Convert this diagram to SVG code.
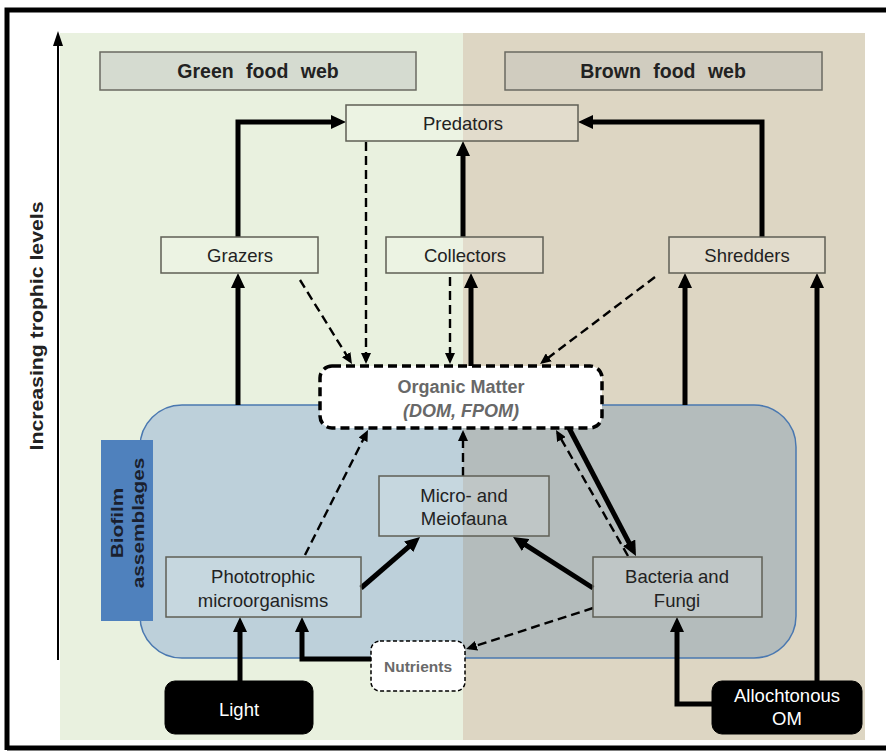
<svg xmlns="http://www.w3.org/2000/svg" width="886" height="756" viewBox="0 0 886 756">
<defs>
<style>
text{font-family:"Liberation Sans",Arial,sans-serif;fill:#222;text-anchor:middle}
.box{fill:#ffffff;fill-opacity:0.15;stroke:#5f5f55;stroke-width:1.5}
.lbl{font-size:18.5px}
.head{font-size:19.5px;font-weight:bold;word-spacing:7px}
.solid{fill:none;stroke:#000;stroke-width:5}
.dash{fill:none;stroke:#000;stroke-width:2.4;stroke-dasharray:9 5}
.blk{fill:#000;stroke:#000}
.wt{fill:#fff;font-size:18.5px}
.om{fill:#686868;font-size:18px;font-weight:bold}
.bio{font-size:16px;font-weight:bold;fill:#1a1f2e}
</style>
<marker id="ah" markerUnits="userSpaceOnUse" markerWidth="15" markerHeight="14" refX="9" refY="7" orient="auto">
<path d="M0,0 L15,7 L0,14 z" fill="#000"/>
</marker>
<marker id="ahd" markerUnits="userSpaceOnUse" markerWidth="11" markerHeight="10" refX="8" refY="5" orient="auto">
<path d="M0,0 L11,5 L0,10 z" fill="#000"/>
</marker>
<clipPath id="rightHalf"><rect x="463" y="0" width="423" height="756"/></clipPath>
</defs>
<rect x="0" y="0" width="886" height="756" fill="#fff"/>
<!-- frame -->
<path d="M7,750 V10 H886" fill="none" stroke="#000" stroke-width="5"/>
<path d="M7,748 H886" fill="none" stroke="#000" stroke-width="5"/>
<!-- panels -->
<rect x="60" y="33" width="403" height="707" fill="#e9f1df"/>
<rect x="463" y="33" width="402" height="707" fill="#ddd6c3"/>
<!-- biofilm region -->
<g id="biofilm">
<rect x="140" y="405" width="656" height="253" rx="42" fill="#bdd0da"/>
<rect x="140" y="405" width="656" height="253" rx="42" fill="#b4bcbc" clip-path="url(#rightHalf)"/>
<rect x="140" y="405" width="656" height="253" rx="42" fill="none" stroke="#4a78b0" stroke-width="1.5"/>
</g>
<!-- trophic axis -->
<g id="axis">
<line x1="58" y1="660" x2="58" y2="44" stroke="#000" stroke-width="2"/>
<path d="M53,46 L58,31 L63,46 z" fill="#000"/>
<text style="font-size:18px;font-weight:bold" transform="translate(43,326) rotate(-90) scale(1.18,1)">Increasing  trophic  levels</text>
</g>
<g id="green-web"><rect x="100" y="52" width="316" height="38" fill="#d5dbd0" stroke="#6a6a62" stroke-width="1.5"/><text class="head" x="258" y="78">Green food web</text></g>
<g id="brown-web"><rect x="505" y="52" width="317" height="38" fill="#d0ccbf" stroke="#6a6a62" stroke-width="1.5"/><text class="head" x="663" y="78">Brown food web</text></g>
<g id="biofilm-label"><rect x="101" y="440" width="52" height="181" fill="#4f81bd"/>
<text class="bio" transform="translate(123,523) rotate(-90) scale(1.3,1)">Biofilm</text>
<text class="bio" transform="translate(144,523) rotate(-90) scale(1.3,1)">assemblages</text></g>
<!-- connectors -->
<g id="connectors">
<path class="solid" d="M238,237 V122 H340" marker-end="url(#ah)"/>
<path class="solid" d="M762,237 V122 H584" marker-end="url(#ah)"/>
<path class="solid" d="M463,237 V147" marker-end="url(#ah)"/>
<path class="solid" d="M238,405 V279" marker-end="url(#ah)"/>
<path class="solid" d="M471,366 V279" marker-end="url(#ah)"/>
<path class="solid" d="M685,405 V279" marker-end="url(#ah)"/>
<path class="solid" d="M817,681 V279" marker-end="url(#ah)"/>
<path class="solid" d="M712,704 H677 V623" marker-end="url(#ah)"/>
<path class="solid" d="M240,681 V623" marker-end="url(#ah)"/>
<path class="solid" d="M371,659 H302 V623" marker-end="url(#ah)"/>
<path class="solid" d="M361,588 L415.5,540.9" marker-end="url(#ah)"/>
<path class="solid" d="M593,588 L518.1,540.2" marker-end="url(#ah)"/>
<path class="solid" d="M569,428 L633.2,550.7" marker-end="url(#ah)"/>
<path class="dash" d="M300,280 L350.4,361.4" marker-end="url(#ahd)"/>
<path class="dash" d="M366,142 V361" marker-end="url(#ahd)"/>
<path class="dash" d="M450,277 V361" marker-end="url(#ahd)"/>
<path class="dash" d="M655,277 L542.4,362.2" marker-end="url(#ahd)"/>
<path class="dash" d="M305,555 L366.6,432.7" marker-end="url(#ahd)"/>
<path class="dash" d="M463,476 V433" marker-end="url(#ahd)"/>
<path class="dash" d="M628,556 L557.5,432.6" marker-end="url(#ahd)"/>
<path class="dash" d="M593,608 L468.9,648.1" marker-end="url(#ahd)"/>
</g>
<!-- nodes -->
<g id="predators"><rect class="box" x="346" y="105" width="232" height="36"/><text class="lbl" x="463" y="130">Predators</text></g>
<g id="grazers"><rect class="box" x="161" y="237" width="157" height="36"/><text class="lbl" x="240" y="262">Grazers</text></g>
<g id="collectors"><rect class="box" x="386" y="237" width="157" height="36"/><text class="lbl" x="465" y="262">Collectors</text></g>
<g id="shredders"><rect class="box" x="669" y="237" width="156" height="36"/><text class="lbl" x="747" y="262">Shredders</text></g>
<g id="organic-matter"><rect x="320" y="366" width="282" height="62" rx="12" fill="#fff" stroke="#000" stroke-width="3.5" stroke-dasharray="9 5"/>
<text class="om" x="461" y="393">Organic Matter</text><text class="om" x="461" y="417" font-style="italic">(DOM, FPOM)</text></g>
<g id="micro-meiofauna"><rect class="box" x="379" y="476" width="170" height="60"/><text class="lbl" x="464" y="502">Micro- and</text><text class="lbl" x="464" y="525">Meiofauna</text></g>
<g id="phototrophic"><rect class="box" x="166" y="557" width="195" height="60"/><text class="lbl" x="263" y="583">Phototrophic</text><text class="lbl" x="263" y="607">microorganisms</text></g>
<g id="bacteria-fungi"><rect class="box" x="593" y="557" width="169" height="60"/><text class="lbl" x="677" y="583">Bacteria  and</text><text class="lbl" x="677" y="607">Fungi</text></g>
<g id="nutrients"><rect x="371" y="641" width="94" height="50" rx="9" fill="#fff" stroke="#000" stroke-width="1.5" stroke-dasharray="4 2.5"/><text x="418" y="672" style="font-size:15.5px;font-weight:bold;fill:#6a6a6a">Nutrients</text></g>
<g id="light"><rect class="blk" x="165" y="681" width="148" height="53" rx="10"/><text class="wt" x="239" y="716">Light</text></g>
<g id="allochtonous"><rect class="blk" x="712" y="681" width="150" height="53" rx="10"/><text class="wt" x="787" y="702">Allochtonous</text><text class="wt" x="787" y="725">OM</text></g>
</svg>
